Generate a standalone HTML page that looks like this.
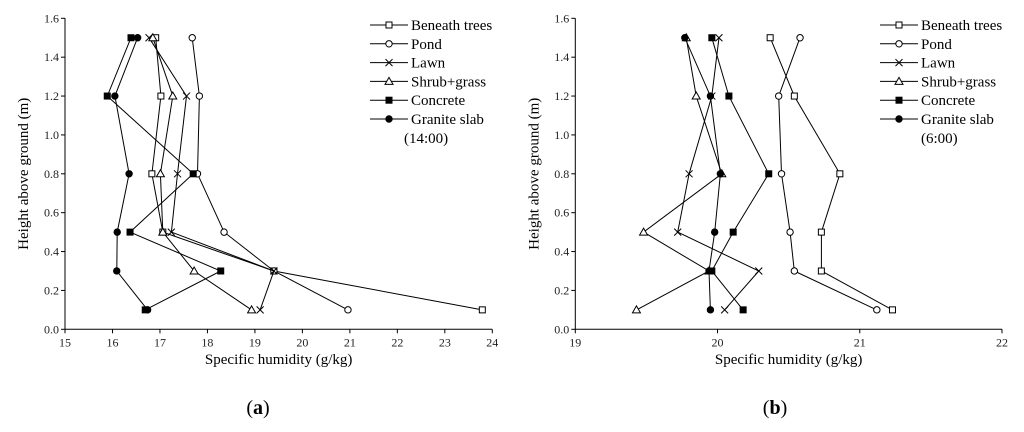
<!DOCTYPE html>
<html><head><meta charset="utf-8"><style>
html,body{margin:0;padding:0;background:#fff;}
svg, svg text{font-family:"Liberation Serif","Times New Roman","DejaVu Serif",serif;}
</style></head><body>
<svg id="fig" width="1024" height="427" viewBox="0 0 1024 427" font-family="Liberation Serif, Times New Roman, serif"></svg>
<script>
const heights = [1.5, 1.2, 0.8, 0.5, 0.3, 0.1];
const seriesNames = ["Beneath trees","Pond","Lawn","Shrub+grass","Concrete","Granite slab"];
const markers = ["square","circle","cross","triangle","fsquare","fcircle"];
const aTrees    = [16.91,17.02,16.83,17.06,19.40,23.79];
const aPond     = [17.68,17.83,17.79,18.35,19.40,20.96];
const aLawn     = [16.77,17.56,17.37,17.24,19.40,19.11];
const aShrub    = [16.85,17.27,17.01,17.06,17.72,18.93];
const aConcrete = [16.39,15.89,17.70,16.37,18.28,16.69];
const aGranite  = [16.53,16.05,16.35,16.10,16.09,16.74];
const bTrees    = [20.37,20.54,20.86,20.73,20.73,21.23];
const bPond     = [20.58,20.43,20.45,20.51,20.54,21.12];
const bLawn     = [20.01,19.96,19.80,19.72,20.29,20.05];
const bShrub    = [19.78,19.85,20.03,19.48,19.94,19.43];
const bConcrete = [19.96,20.08,20.36,20.11,19.96,20.18];
const bGranite  = [19.77,19.95,20.02,19.98,19.94,19.95];
const aXTicks = [15,16,17,18,19,20,21,22,23,24];
const bXTicks = [19,20,21,22];
const yTicks = [0,0.2,0.4,0.6,0.8,1.0,1.2,1.4,1.6];

const NS="http://www.w3.org/2000/svg";
const FONT='"Liberation Serif", "Times New Roman", serif';
const svg=document.getElementById('fig');
function mk(tag,attrs,parent,text){const e=document.createElementNS(NS,tag);for(const k in attrs)e.setAttribute(k,attrs[k]);if(tag==='text')e.setAttribute('font-family',FONT);if(text!==undefined)e.textContent=text;(parent||svg).appendChild(e);return e;}

function marker(g,type,x,y){
  let e;
  if(type==="square"||type==="fsquare"){e=mk('rect',{x:x-3,y:y-3,width:6,height:6,fill:type==="fsquare"?"#000":"#fff",stroke:"#000","stroke-width":1},g);}
  else if(type==="circle"||type==="fcircle"){e=mk('circle',{cx:x,cy:y,r:3.2,fill:type==="fcircle"?"#000":"#fff",stroke:"#000","stroke-width":1},g);}
  else if(type==="cross"){e=mk('path',{d:`M${x-3.5} ${y-3.5}L${x+3.5} ${y+3.5}M${x-3.5} ${y+3.5}L${x+3.5} ${y-3.5}`,stroke:"#000","stroke-width":1,fill:"none"},g);}
  else {e=mk('path',{d:`M${x} ${y-4}L${x+4} ${y+3}L${x-4} ${y+3}Z`,fill:"#fff",stroke:"#000","stroke-width":1},g);}
  
  
}

function panel(id,x0,x1,xmin,xmax,xticks,series,legX,timeLabel,timeX,tag,tagX){
  const y0=329.3,y1=18.3;
  const X=v=>x0+(v-xmin)/(xmax-xmin)*(x1-x0);
  const Y=v=>y0+(v/1.6)*(y1-y0);
  const g=mk('g',{});
  
  
  const ax=mk('path',{d:`M${x0} ${Y(1.6)}L${x0} ${y0}L${x1} ${y0}`,fill:"none",stroke:"#000","stroke-width":1},g);
  
  
  yTicks.forEach(t=>{
    const y=Y(t);
    mk('line',{x1:x0-4,x2:x0,y1:y,y2:y,stroke:"#000"},g);
    const tl=mk('text',{x:x0-6,y:y+4,"text-anchor":"end","font-size":12,fill:"#222"},g,t.toFixed(1));
    
    
  });
  xticks.forEach(t=>{
    const x=X(t);
    mk('line',{x1:x,x2:x,y1:y0,y2:y0+4,stroke:"#000"},g);
    const tl=mk('text',{x:x,y:y0+17,"text-anchor":"middle","font-size":12,fill:"#222"},g,String(t));
    
    
  });
  const xt=mk('text',{x:(x0+x1)/2,y:364,"text-anchor":"middle","font-size":15},g,"Specific humidity (g/kg)");
  
  
  const yt=mk('text',{x:0,y:0,"text-anchor":"middle","font-size":15,transform:`translate(${x0-37},${(y0+y1)/2}) rotate(-90)`},g,"Height above ground (m)");
  
  
  series.forEach((vals,i)=>{
    const sg=mk('g',{},g);
    
    
    const d=vals.map((v,j)=>(j?'L':'M')+X(v).toFixed(1)+' '+Y(heights[j]).toFixed(1)).join('');
    mk('path',{d:d,fill:"none",stroke:"#000","stroke-width":1},sg);
    vals.forEach((v,j)=>marker(sg,markers[i],X(v),Y(heights[j])));
    const ly=25+i*18.8;
    const lg=mk('g',{},g);
    
    
    mk('line',{x1:legX,x2:legX+38,y1:ly,y2:ly,stroke:"#000"},lg);
    marker(lg,markers[i],legX+19,ly);
    mk('text',{x:legX+41,y:ly+5,"font-size":15},lg,seriesNames[i]);
  });
  const tm=mk('text',{x:timeX,y:143,"font-size":15},g,timeLabel);
  
  
  const cap=mk('text',{x:tagX,y:414,"text-anchor":"middle","font-size":20},g);
  
  
  mk('tspan',{},cap,"(");mk('tspan',{"font-weight":"bold"},cap,tag);mk('tspan',{},cap,")");
}

panel('a',65,492.3,15,24,aXTicks,[aTrees,aPond,aLawn,aShrub,aConcrete,aGranite],370,"(14:00)",404,"a",258);
panel('b',575.3,1002,19,22,bXTicks,[bTrees,bPond,bLawn,bShrub,bConcrete,bGranite],880,"(6:00)",921,"b",775);
</script>
</body></html>
